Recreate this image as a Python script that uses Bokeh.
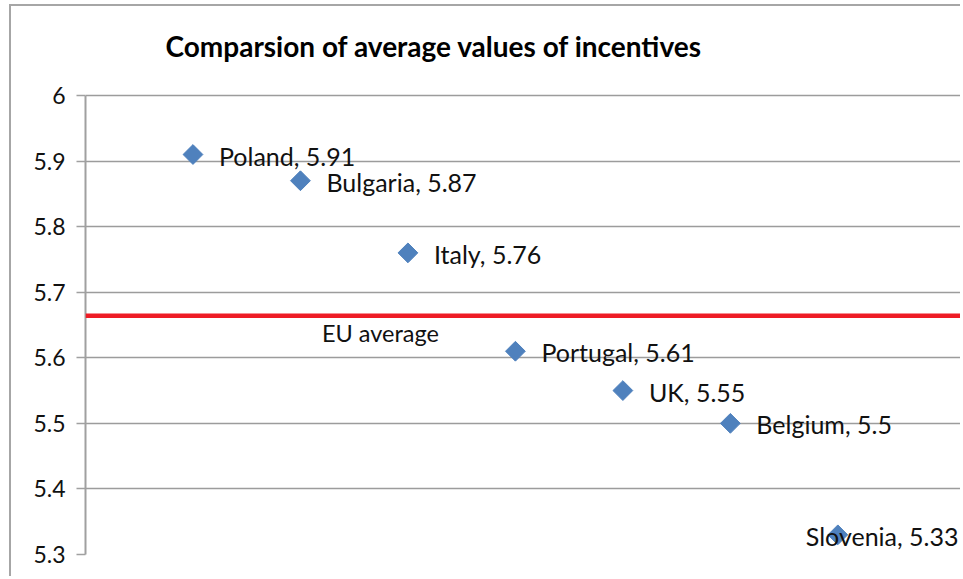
import math
from bokeh.plotting import figure
from bokeh.models import ColumnDataSource, Span, Range1d, FixedTicker, Label
from bokeh.core.properties import value
from bokeh.embed import file_html
from bokeh.resources import INLINE

# ---- data ----
countries = ["Poland", "Bulgaria", "Italy", "Portugal", "UK", "Belgium", "Slovenia"]
scores = [5.91, 5.87, 5.76, 5.61, 5.55, 5.5, 5.33]
positions = [1, 2, 3, 4, 5, 6, 7]
eu_average = 5.664
y_ticks = [5.3, 5.4, 5.5, 5.6, 5.7, 5.8, 5.9, 6.0]
title_text = "Comparsion of average values of incentives"
eu_label = "EU average"

FONT = "Lato"

labels = [f"{c}, {v:g}" for c, v in zip(countries, scores)]
label_dx = [26] * (len(countries) - 1) + [-32]

src = ColumnDataSource(dict(x=positions, y=scores, label=labels, dx=label_dx))

# frame spans the full height above the axis so the title fits inside it;
# the upper end leaves room for the title above the 6.0 gridline
H, BOTTOM, AXIS_TOP_PX = 572, 24, 89
y_top = 5.3 + 0.7 * (H - BOTTOM) / (H - BOTTOM - AXIS_TOP_PX)

p = figure(width=951, height=H, output_backend="svg", toolbar_location=None,
           x_range=Range1d(0, 8.16), y_range=Range1d(5.3, y_top),
           min_border_left=74, min_border_right=0, min_border_top=0,
           min_border_bottom=BOTTOM)
p.styles = {"border-left": "2px solid #a6a6a6", "border-top": "2px solid #a6a6a6",
            "margin-left": "9px", "margin-top": "4px"}
p.outline_line_color = None
p.background_fill_color = "white"
p.border_fill_color = "white"

# chart title (offsets in screen pixels from the top-left of the value axis)
p.add_layout(Label(x=0, y=6.0, x_offset=80, y_offset=50, text=title_text,
                   text_baseline="middle", text_align="left", text_font=FONT,
                   text_font_size="28px", text_font_style="bold",
                   text_color="#000000"))

p.xaxis.visible = False
p.xgrid.visible = False

yax = p.yaxis[0]
yax.bounds = (5.3, 6.0)
yax.ticker = FixedTicker(ticks=y_ticks)
yax.major_label_overrides = {5.3: "5.3", 5.4: "5.4", 5.5: "5.5", 5.6: "5.6",
                             5.7: "5.7", 5.8: "5.8", 5.9: "5.9", 6.0: "6"}
yax.axis_line_color = "#a0a0a0"
yax.axis_line_width = 2
yax.major_tick_line_color = "#a0a0a0"
yax.major_tick_line_width = 1.5
yax.major_tick_out = 9
yax.major_tick_in = 0
yax.minor_tick_line_color = None
yax.major_label_standoff = 11
yax.major_label_text_font = FONT
yax.major_label_text_font_size = "23px"
yax.major_label_text_color = "#111111"

p.ygrid.ticker = FixedTicker(ticks=y_ticks)
p.ygrid.grid_line_color = "#9c9c9c"
p.ygrid.grid_line_width = 1.5

# EU average line
p.add_layout(Span(location=eu_average, dimension="width", line_color="#ee1c25",
                  line_width=4.5))
p.add_layout(Label(x=2.2, y=eu_average, text=eu_label, y_offset=-17,
                   text_baseline="middle", text_font=FONT,
                   text_font_size="23.5px", text_color="#111111"))

p.scatter("x", "y", source=src, marker="square", size=14, angle=math.pi / 4,
          fill_color="#4f81bd", line_color="#4f81bd")
p.text("x", "y", text="label", source=src, x_offset="dx", y_offset=1,
       text_baseline="middle", text_font=value(FONT), text_font_size="25px",
       text_color="#111111")

open("out.html", "w").write(file_html(p, INLINE))
